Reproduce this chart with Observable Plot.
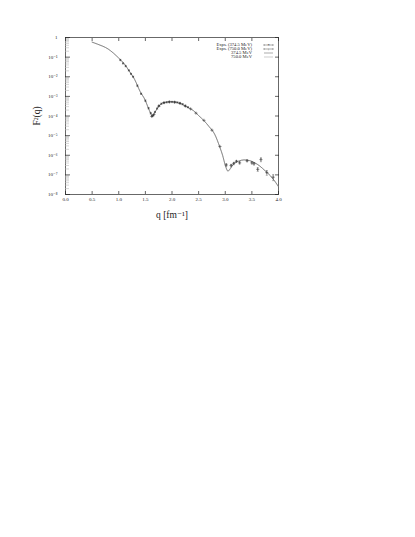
<!DOCTYPE html>
<html><head><meta charset="utf-8">
<script src="https://cdn.jsdelivr.net/npm/d3@7"></script>
<script src="https://cdn.jsdelivr.net/npm/@observablehq/plot@0.6"></script>
<style>
body{margin:0;background:#fff;}
#chart svg{font-family:"Liberation Serif","DejaVu Serif",serif;}
#chart svg [aria-label="x-axis label"] text,#chart svg [aria-label="y-axis label"] text{font-size:9.5px;}
</style></head><body><div id="chart"></div>
<script>
// Theory curves (q in fm^-1, F^2(q))
const qTheory = [0.5,0.6,0.7,0.8,0.9,1.0,1.1,1.2,1.3,1.4,1.5,1.55,1.6,1.63,1.66,1.7,1.75,1.8,1.9,2.0,2.1,2.2,2.3,2.4,2.5,2.6,2.7,2.8,2.9,2.95,3.0,3.05,3.1,3.15,3.25,3.35,3.45,3.55,3.65,3.75,3.85,3.95,4.0];
const f374Theory = [5.8e-1,4.6e-1,3.6e-1,2.6e-1,1.6e-1,8.9e-2,4.7e-2,1.9e-2,7.1e-3,1.8e-3,6.2e-4,2.8e-4,1.4e-4,1.0e-4,1.3e-4,1.9e-4,3.2e-4,4.2e-4,5.1e-4,5.4e-4,4.9e-4,3.8e-4,2.7e-4,1.9e-4,1.05e-4,5.8e-5,2.8e-5,1.2e-5,2.5e-6,1.0e-6,3.2e-7,1.6e-7,2.2e-7,3.5e-7,5.0e-7,5.8e-7,5.4e-7,4.2e-7,2.8e-7,1.6e-7,8.9e-8,4.0e-8,2.5e-8];
const f750Theory = [5.8e-1,4.6e-1,3.6e-1,2.6e-1,1.6e-1,8.9e-2,4.7e-2,1.9e-2,7.1e-3,1.8e-3,6.0e-4,2.7e-4,1.3e-4,9.2e-5,1.2e-4,1.9e-4,3.2e-4,4.2e-4,5.1e-4,5.4e-4,4.9e-4,3.8e-4,2.7e-4,1.9e-4,1.05e-4,5.8e-5,2.8e-5,1.2e-5,2.5e-6,1.0e-6,3.0e-7,1.5e-7,2.1e-7,3.5e-7,5.0e-7,5.8e-7,5.4e-7,4.2e-7,2.8e-7,1.6e-7,8.9e-8,4.0e-8,2.5e-8];

// Experiment 374.5 MeV
const qExp374 = [1.03,1.08,1.13,1.19,1.23,1.27,1.35,1.42,1.50,1.56,1.60,1.63,1.65,1.68,1.72,1.76,1.80,1.85,1.90,1.95,2.00,2.05,2.10,2.15,2.20,2.25,2.30];
const fExp374 = [7.1e-2,4.8e-2,3.5e-2,2.1e-2,1.4e-2,1.0e-2,3.5e-3,1.35e-3,6.0e-4,2.5e-4,1.4e-4,1.0e-4,1.1e-4,1.6e-4,2.4e-4,3.3e-4,4.2e-4,4.7e-4,5.0e-4,5.2e-4,5.2e-4,5.1e-4,4.9e-4,4.5e-4,4.0e-4,3.3e-4,2.8e-4];

// Experiment 750.0 MeV
const qExp750 = [1.62,1.66,1.75,1.85,1.95,2.05,2.15,2.25,2.35,2.45,2.60,2.75,2.90,3.02,3.11,3.16,3.21,3.27,3.41,3.50,3.54,3.61,3.67,3.78,3.90];
const fExp750 = [9.5e-5,1.2e-4,3.2e-4,4.8e-4,5.2e-4,5.0e-4,4.4e-4,3.2e-4,2.3e-4,1.4e-4,6.0e-5,1.9e-5,2.8e-6,3.2e-7,3.0e-7,3.8e-7,4.9e-7,4.1e-7,5.2e-7,4.1e-7,3.7e-7,1.9e-7,6.0e-7,1.3e-7,7.6e-8];
const errExp750 = [0,0,0,0,0,0,0,0,0,0,0,0,0,0.4e-7,0.4e-7,0.5e-7,0.5e-7,0.5e-7,0.5e-7,0.5e-7,0.5e-7,0.4e-7,1.3e-7,0.35e-7,0.25e-7];

const xTicks = [0,0.5,1,1.5,2,2.5,3,3.5,4];
const yTicks = [1,1e-1,1e-2,1e-3,1e-4,1e-5,1e-6,1e-7,1e-8];
const legendLabels = ["Exps. (374.5 MeV)","Exps. (750.0 MeV)","374.5 MeV","750.0 MeV"];

const sup = {"0":"⁰","1":"¹","2":"²","3":"³","4":"⁴","5":"⁵","6":"⁶","7":"⁷","8":"⁸","9":"⁹","-":"⁻"};
const fmtY = v => { const e = Math.round(Math.log10(v)); return e === 0 ? "1" : "10" + String(e).split("").map(c => sup[c]).join(""); };
const minorTicks = [];
for (let e = -8; e < 0; e++) for (let m = 2; m <= 9; m++) minorTicks.push(m * Math.pow(10, e));

// horizontal cap symbol for error bars
const capSymbol = {draw(ctx, size) { const w = Math.sqrt(size) / 2; ctx.moveTo(-w, 0); ctx.lineTo(w, 0); }};

const theory374 = qTheory.map((q,i) => ({q, f: f374Theory[i]}));
const theory750 = qTheory.map((q,i) => ({q, f: f750Theory[i]}));
const exp374 = qExp374.map((q,i) => ({q, f: fExp374[i]}));
const exp750 = qExp750.map((q,i) => ({q, f: fExp750[i], lo: fExp750[i]-errExp750[i], hi: fExp750[i]+errExp750[i], e: errExp750[i]}));
const withErr = exp750.filter(d => d.e > 0);

const chart = Plot.plot({
  width: 415, height: 222,
  marginLeft: 65, marginRight: 137, marginTop: 37, marginBottom: 28,
  style: {fontSize: "5px", background: "#fff", color: "#222"},
  x: {domain: [0,4]},
  y: {type: "log", domain: [1e-8, 1]},
  marks: [
    Plot.frame({stroke: "#444", strokeWidth: 0.8}),
    Plot.axisY({ticks: minorTicks, tickSize: -4, text: null, stroke: "#bbb", strokeWidth: 0.6, label: null}),
    Plot.axisY({ticks: yTicks, tickSize: -5, text: null, label: null, strokeWidth: 0.7}),
    Plot.axisY({ticks: yTicks, tickSize: 0, tickPadding: 8, tickFormat: fmtY, fill: "#222", label: "F²(q)", labelAnchor: "center", labelArrow: "none", labelOffset: 32}),
    Plot.axisY({anchor: "right", ticks: yTicks, tickSize: -4, text: null, label: null, strokeWidth: 0.7}),
    Plot.axisX({anchor: "top", ticks: xTicks, tickSize: -3, text: null, label: null, strokeWidth: 0.7}),
    Plot.axisX({ticks: xTicks, tickSize: -3, tickPadding: 6, tickFormat: d3.format(".1f"), fill: "#222", label: "q [fm⁻¹]", labelAnchor: "center", labelArrow: "none", labelOffset: 23, strokeWidth: 0.7}),
    Plot.line(theory750, {x: "q", y: "f", stroke: "#999", strokeWidth: 0.6, curve: "monotone-x"}),
    Plot.line(theory374, {x: "q", y: "f", stroke: "#666", strokeWidth: 0.6, curve: "monotone-x"}),
    Plot.ruleX(withErr, {x: "q", y1: "lo", y2: "hi", stroke: "#444", strokeWidth: 0.45}),
    Plot.dot(withErr, {x: "q", y: "lo", symbol: capSymbol, r: 1.1, stroke: "#444", strokeWidth: 0.45}),
    Plot.dot(withErr, {x: "q", y: "hi", symbol: capSymbol, r: 1.1, stroke: "#444", strokeWidth: 0.45}),
    Plot.dot(exp374, {x: "q", y: "f", symbol: "asterisk", r: 1.1, stroke: "#333", strokeWidth: 0.55}),
    Plot.dot(exp750, {x: "q", y: "f", symbol: "plus", r: 1.1, stroke: "#333", strokeWidth: 0.55})
  ]
});
document.getElementById("chart").appendChild(chart);

// Legend inside the top-right of the frame
const svg = d3.select(chart);
const lg = svg.append("g").attr("font-size", 4.6).attr("fill", "#222");
legendLabels.forEach((t, i) => {
  const y = 45 + i * 4;
  lg.append("text").attr("x", 252).attr("y", y).attr("text-anchor", "end").attr("dominant-baseline", "middle").text(t);
  lg.append("line").attr("x1", 264).attr("x2", 273).attr("y1", y).attr("y2", y)
    .attr("stroke", i === 3 ? "#999" : "#555").attr("stroke-width", 0.5);
  if (i < 2) {
    lg.append("line").attr("x1", 264).attr("x2", 264).attr("y1", y - 1).attr("y2", y + 1).attr("stroke", "#555").attr("stroke-width", 0.5);
    lg.append("line").attr("x1", 273).attr("x2", 273).attr("y1", y - 1).attr("y2", y + 1).attr("stroke", "#555").attr("stroke-width", 0.5);
    lg.append("text").attr("x", 268.5).attr("y", y + 1.6).attr("text-anchor", "middle").attr("font-size", 4.5).text(i === 0 ? "*" : "+");
  }
});
</script></body></html>
